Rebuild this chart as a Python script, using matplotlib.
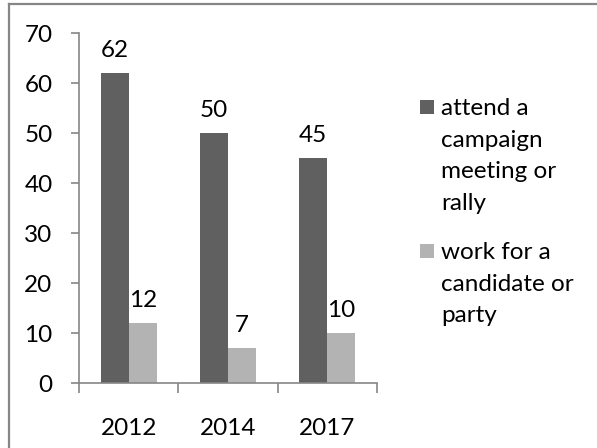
import matplotlib
matplotlib.use("Agg")
import matplotlib.pyplot as plt
from matplotlib.patches import Rectangle
import numpy as np

# Data
years = ["2012", "2014", "2017"]
series_names = ["attend a\ncampaign\nmeeting or\nrally", "work for a\ncandidate or\nparty"]
attend_rally = [62, 50, 45]
work_for_candidate = [12, 7, 10]
y_ticks = [0, 10, 20, 30, 40, 50, 60, 70]

W, H = 597, 448
DPI = 100
plt.rcParams["font.family"] = ["Lato", "DejaVu Sans"]
FS = 17.5

dark = "#606060"
light = "#b3b3b3"
axis_grey = "#868686"

fig = plt.figure(figsize=(W / DPI, H / DPI), dpi=DPI)

def fx(px):
    return px / W

def fy(py):
    return 1 - py / H

# outer chart frame (continues past the right and bottom edges)
fig.add_artist(plt.Line2D([fx(9), fx(9)], [fy(4), fy(460)], color=axis_grey, lw=1.6,
                          transform=fig.transFigure))
fig.add_artist(plt.Line2D([fx(9), fx(610)], [fy(4), fy(4)], color=axis_grey, lw=1.6,
                          transform=fig.transFigure))

ax = fig.add_axes([fx(79), fy(383), fx(377) - fx(79), fy(33) - fy(383)])
x = np.arange(len(years))
bw = 0.282
b1 = ax.bar(x - bw / 2, attend_rally, bw, color=dark)
b2 = ax.bar(x + bw / 2, work_for_candidate, bw, color=light)

for bars, vals in ((b1, attend_rally), (b2, work_for_candidate)):
    for rect, v in zip(bars, vals):
        ax.annotate(str(v), (rect.get_x() + rect.get_width() / 2, v),
                    xytext=(0, 12), textcoords="offset pixels",
                    ha="center", va="bottom", fontsize=FS)

ax.set_xlim(-0.5, len(years) - 0.5)
ax.set_ylim(0, 70)
ax.set_yticks(y_ticks)
ax.set_yticklabels([str(t) for t in y_ticks])
ax.set_xticks(x)
ax.set_xticklabels(years)
ax.set_xticks(np.arange(len(years) + 1) - 0.5, minor=True)

for s in ("top", "right"):
    ax.spines[s].set_visible(False)
for s in ("left", "bottom"):
    ax.spines[s].set_color(axis_grey)
    ax.spines[s].set_linewidth(1.2)

ax.tick_params(axis="y", direction="out", length=6, width=1.2, color=axis_grey,
               labelsize=FS, pad=13)
ax.tick_params(axis="x", which="major", length=0, labelsize=FS, pad=25)
ax.tick_params(axis="x", which="minor", direction="out", length=7, width=1.2,
               color=axis_grey)

# legend
legend_items = [(series_names[0], dark, 100), (series_names[1], light, 244)]
for label, col, top in legend_items:
    fig.add_artist(Rectangle((fx(420), fy(top + 14)), fx(14), 14 / H,
                             facecolor=col, edgecolor="none",
                             transform=fig.transFigure))
    fig.text(fx(441), fy(top - 2), label, ha="left", va="top",
             fontsize=FS, linespacing=1.62)

fig.savefig("out.png", dpi=DPI)
